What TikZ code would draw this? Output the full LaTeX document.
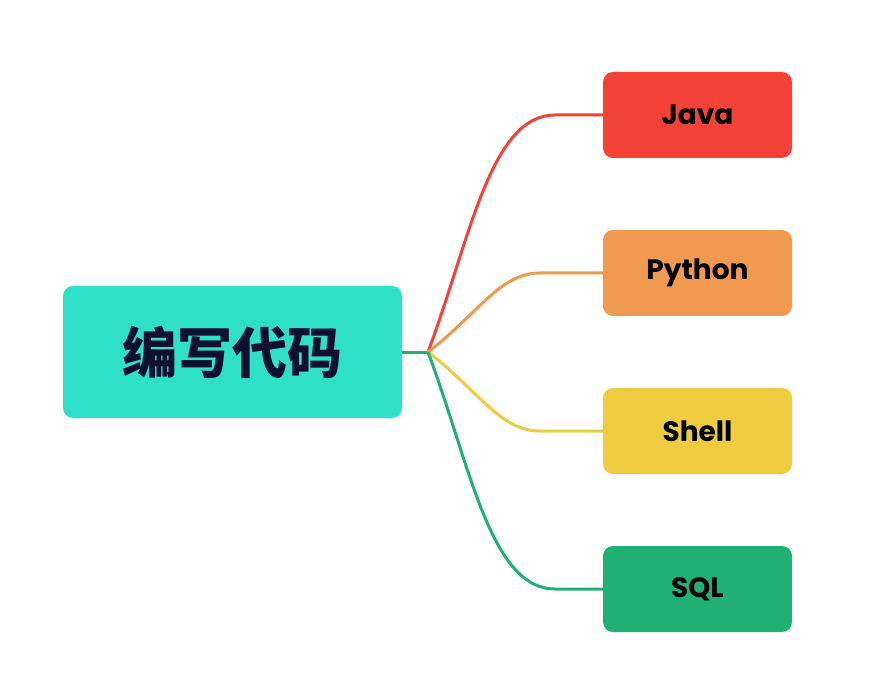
\documentclass[tikz,border=0pt]{standalone}
\usepackage{fontspec}
\setmainfont{Poppins}
\newfontfamily\cjk{Noto Sans CJK SC}
\definecolor{rootc}{HTML}{2EE0C8}
\definecolor{javac}{HTML}{F44239}
\definecolor{pyc}{HTML}{F29950}
\definecolor{shc}{HTML}{EFCB40}
\definecolor{sqlc}{HTML}{21B073}
\definecolor{ink}{HTML}{0F1030}
\begin{document}
\begin{tikzpicture}[x=1pt,y=-1pt,
  child/.style={rounded corners=10pt, minimum width=189pt, minimum height=86pt, inner sep=0pt, font=\fontsize{28}{32}\selectfont\bfseries, text=black},
  link/.style={line width=3pt}]
\path[fill=white] (0,0) rectangle (872,692);
\node[fill=rootc, rounded corners=10pt, minimum width=339pt, minimum height=132pt, inner sep=0pt, font=\cjk\fontsize{55}{60}\selectfont\bfseries, text=ink] (root) at (232.5,352) {编写代码};
\node[child, fill=javac] (java) at (697.5,115) {Java};
\node[child, fill=pyc] (py) at (697.5,273) {Python};
\node[child, fill=shc] (sh) at (697.5,431) {Shell};
\node[child, fill=sqlc] (sql) at (697.5,589) {SQL};
\coordinate (j) at (428,352);
\draw[link, sqlc] (root.east) -- (j);
\draw[link, javac] (j) .. controls (470,240) and (490,115) .. (555,115) -- (java.west);
\draw[link, pyc] (j) .. controls (480,312) and (500,273) .. (540,273) -- (py.west);
\draw[link, shc] (j) .. controls (480,392) and (500,431) .. (540,431) -- (sh.west);
\draw[link, sqlc] (j) .. controls (470,464) and (490,589) .. (555,589) -- (sql.west);
\end{tikzpicture}
\end{document}
